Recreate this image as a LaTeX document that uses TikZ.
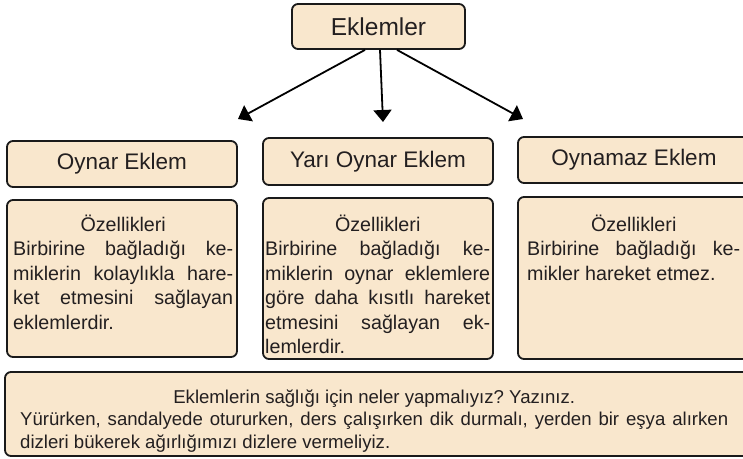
\documentclass[tikz,border=0pt]{standalone}
\usepackage{fontspec}
\setmainfont{Liberation Sans}
\usetikzlibrary{arrows.meta,calc}
\definecolor{boxfill}{HTML}{F9E7CD}
\definecolor{boxline}{HTML}{1A1A1A}
\definecolor{txt}{HTML}{231F20}
\newcommand{\ctrline}[1]{\makebox[\linewidth]{#1}\par}
\newcommand{\jpar}[2]{\parbox[t]{#1}{\tolerance=10000\relax\hyphenpenalty=10000\relax\frenchspacing #2}}
\begin{document}
\begin{tikzpicture}[x=1pt,y=-1pt,
  box/.style={draw=boxline, fill=boxfill, line width=1.8pt, rounded corners=6pt, inner sep=0pt, text=txt},
  titlefont/.style={font=\fontsize{22.5pt}{27pt}\selectfont},
  bodytext/.style={anchor=base west, inner sep=0pt, text=txt,
    font=\fontsize{19.7pt}{24.5pt}\selectfont},
  bottomtext/.style={anchor=base west, inner sep=0pt, text=txt,
    font=\fontsize{18.6pt}{22.5pt}\selectfont},
  arr/.style={draw=black, line width=1.8pt, -{Triangle[length=12pt,width=18pt]}}]
\useasboundingbox (0,0) rectangle (743,458);

% top node
\node[box, minimum width=173pt, minimum height=45pt] (ekl) at (378.5,26.5)
  {\fontsize{24.5pt}{29pt}\selectfont Eklemler};

% title boxes
\node[box, titlefont, minimum width=230pt, minimum height=46pt] (t1) at (122,164) {Oynar Eklem};
\node[box, titlefont, minimum width=230pt, minimum height=47pt] (t2) at (378,161.5) {Yarı Oynar Eklem};
\node[box, titlefont, minimum width=232pt, minimum height=46pt] (t3) at (634,160) {Oynamaz Eklem};

% body boxes
\node[box, minimum width=230pt, minimum height=157pt] (b1) at (122,278.5) {};
\node[box, minimum width=230pt, minimum height=161pt] (b2) at (378,278.5) {};
\node[box, minimum width=232pt, minimum height=162pt] (b3) at (634,278) {};

% bottom box
\node[box, minimum width=745pt, minimum height=84pt] (bot) at (377.5,414) {};

% body texts
\node[bodytext] (x1) at (13,231)
  {\jpar{220pt}{\ctrline{Özellikleri}Birbirine bağladığı ke-\linebreak miklerin kolaylıkla hare-\linebreak ket etmesini sağlayan\linebreak eklemlerdir.}};
\node[bodytext] (x2) at (265,231)
  {\jpar{225pt}{\ctrline{Özellikleri}Birbirine bağladığı ke-\linebreak miklerin oynar eklemlere\linebreak göre daha kısıtlı hareket\linebreak etmesini sağlayan ek-\linebreak lemlerdir.}};
\node[bodytext] (x3) at (527,231)
  {\jpar{213pt}{\ctrline{Özellikleri}Birbirine bağladığı ke-\linebreak mikler hareket etmez.}};

\node[bottomtext] (x4) at (20,403)
  {\jpar{708pt}{\ctrline{Eklemlerin sağlığı için neler yapmalıyız? Yazınız.}Yürürken, sandalyede otururken, ders çalışırken dik durmalı, yerden bir eşya alırken\linebreak dizleri bükerek ağırlığımızı dizlere vermeliyiz.}};

% arrows
\coordinate (tipL) at (238,119);
\coordinate (tipM) at (383,122);
\coordinate (tipR) at (523,119);
\draw[arr] ($(ekl.south)+(-13.5,0)$) -- (tipL);
\draw[arr] ($(ekl.south)+(1.5,0)$) -- (tipM);
\draw[arr] ($(ekl.south)+(18.5,0)$) -- (tipR);
\end{tikzpicture}
\end{document}
